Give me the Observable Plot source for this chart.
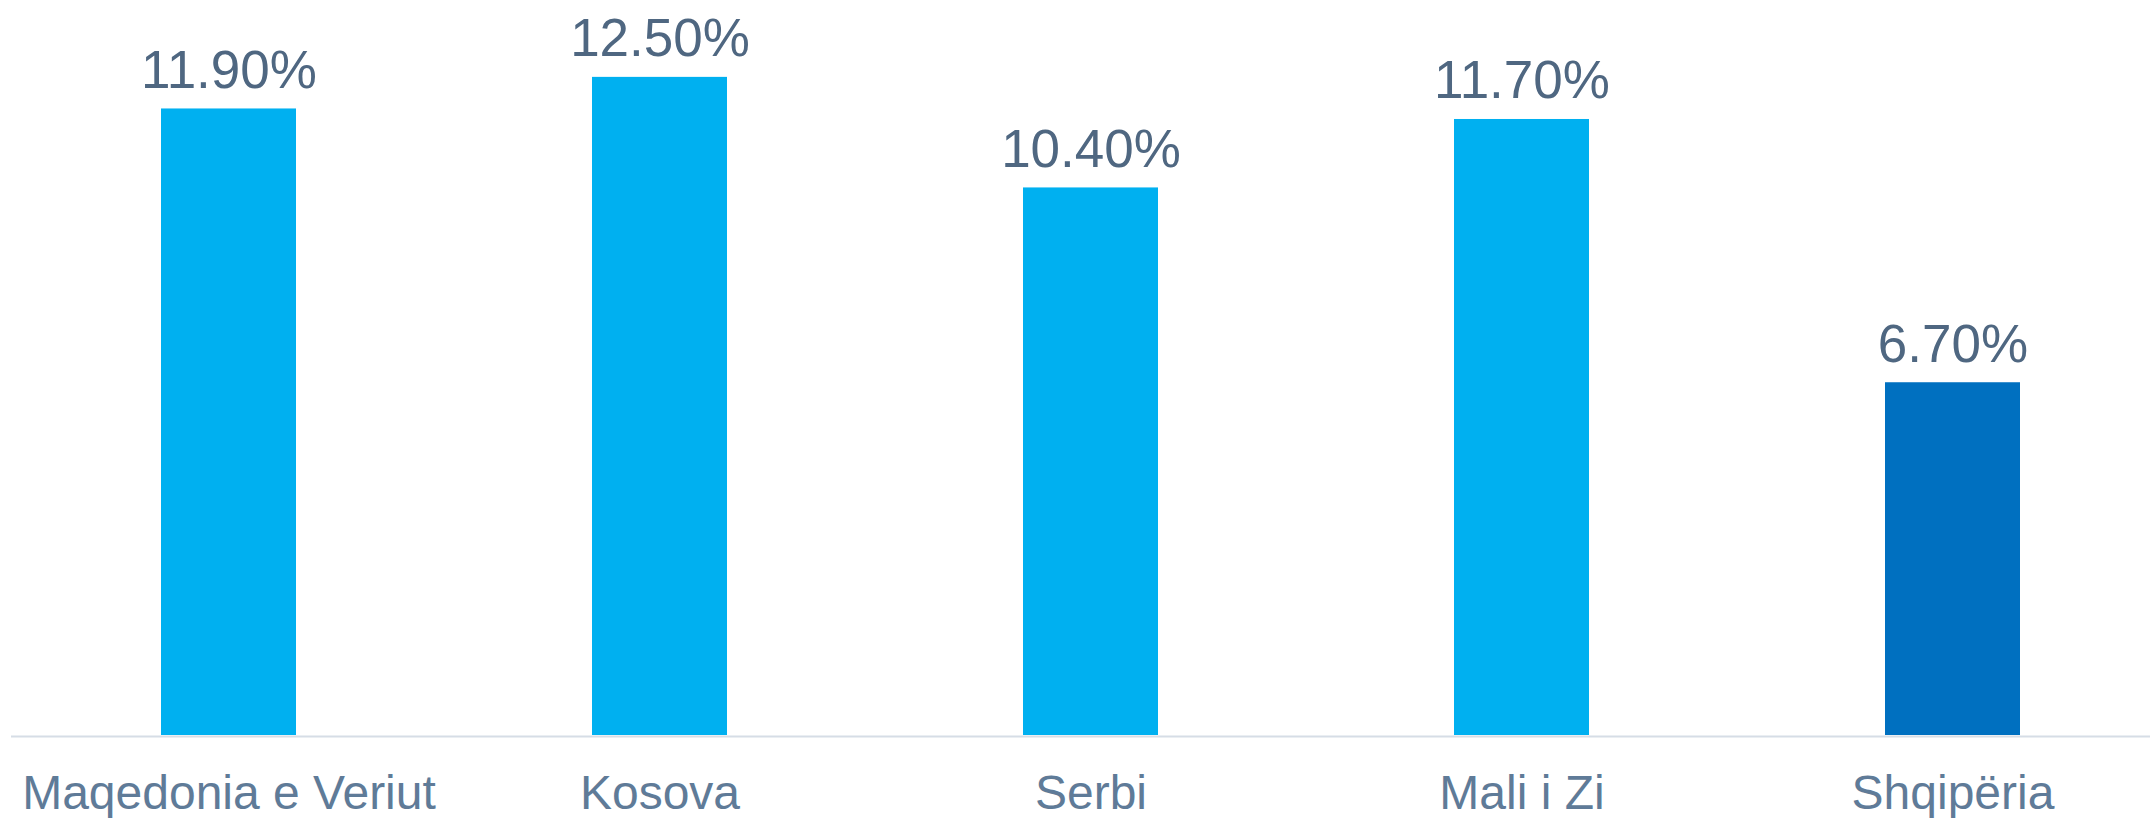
<!DOCTYPE html>
<html>
<head>
<meta charset="utf-8">
<script src="https://cdn.jsdelivr.net/npm/d3@7"></script>
<script src="https://cdn.jsdelivr.net/npm/@observablehq/plot@0.6"></script>
<style>
  html, body { margin: 0; padding: 0; background: #fff; }
  #chart svg { display: block; }
</style>
</head>
<body>
<div id="chart"></div>
<script>
const countries = ["Maqedonia e Veriut", "Kosova", "Serbi", "Mali i Zi", "Shqipëria"];
const values = [11.9, 12.5, 10.4, 11.7, 6.7];
const highlight = ["Shqipëria"];

const data = countries.map((c, i) => ({country: c, value: values[i], hi: highlight.includes(c)}));

const chart = Plot.plot({
  width: 2150,
  height: 818,
  marginTop: 0,
  marginLeft: 11,
  marginRight: 0,
  marginBottom: 83,
  style: {fontFamily: "'Liberation Sans', Arial, sans-serif", background: "#fff"},
  x: {domain: countries, range: [11, 2169], paddingInner: 0.687, paddingOuter: 0.3435, label: null},
  y: {domain: [0, 13.96], axis: null},
  marks: [
    Plot.barY(data, {x: "country", y: "value", fill: d => d.hi ? "#0070c0" : "#00b0f0"}),
    Plot.ruleY([0], {stroke: "#d6dde6", strokeWidth: 2, dy: 1}),
    Plot.text(data, {
      x: "country", y: "value",
      text: d => d3.format(".2f")(d.value) + "%",
      lineAnchor: "bottom", dy: -21,
      fontSize: 53, fill: "#4f6781"
    }),
    Plot.axisX({tickSize: 0, tickPadding: 39, fontSize: 48, color: "#5f7b98", label: null})
  ]
});
document.getElementById("chart").appendChild(chart);
</script>
</body>
</html>
